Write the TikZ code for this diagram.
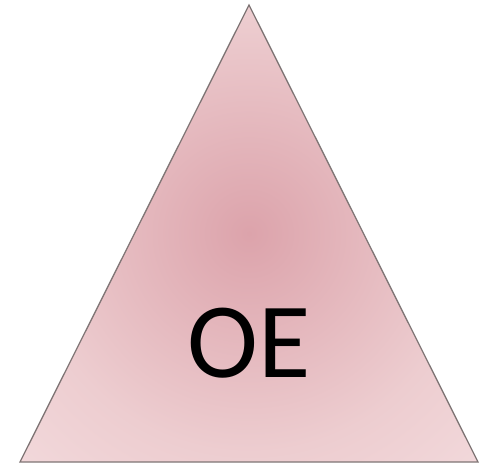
\documentclass[tikz,border=0pt]{standalone}
\usepackage{fontspec}
\usepackage{tikz}
\usetikzlibrary{calc}
\newfontfamily\oefont{Carlito}
\definecolor{trimid}{HTML}{DCA3AB}
\definecolor{tripink}{HTML}{EDCDD0}
\definecolor{triedge}{HTML}{F8E6E8}
\definecolor{tridraw}{HTML}{7F7575}
\pgfdeclareradialshading{trishade}{\pgfpoint{0bp}{0bp}}{%
  color(0bp)=(trimid); color(24bp)=(tripink); color(50bp)=(triedge)}
\tikzset{
  % Pastel triangle with a soft gradient and a thin grey outline.
  tri/.style   = {draw=tridraw, line width=1.3pt, line join=miter, shading=trishade},
  big/.style   = {font=\oefont\fontsize{107}{107}\selectfont, text=black, inner sep=0pt},
}
\begin{document}
\begin{tikzpicture}[x=1pt,y=-1pt]
\useasboundingbox (0,0) rectangle (489,466);
\coordinate (top) at (249,5);
\coordinate (bl) at (20,462);
\coordinate (br) at (478,462);
% triangle
\path[tri] (top) -- (bl) -- (br) -- cycle;
\node[big] (oe) at (249,343) {OE};
\end{tikzpicture}
\end{document}
